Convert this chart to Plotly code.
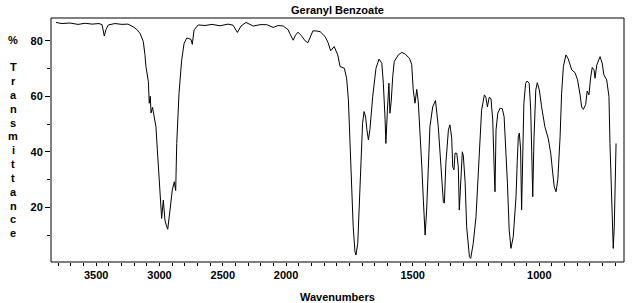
import plotly.graph_objects as go

# ---- data ----
wavenumber = [
    3818, 3770, 3707, 3644, 3588, 3533, 3478, 3454, 3436, 3423, 3404, 3352, 3296, 3249,
    3207, 3178, 3154, 3128, 3115, 3107, 3088, 3081, 3073, 3067, 3055, 3041, 3028, 3017,
    3004, 2996, 2983, 2970, 2957, 2943, 2935, 2917, 2899, 2883, 2872, 2864, 2846, 2825,
    2806, 2785, 2751, 2741, 2727, 2694, 2641, 2585, 2522, 2459, 2419, 2385, 2356, 2317,
    2259, 2206, 2153, 2101, 2064, 2022, 2000,
    1992, 1985, 1972, 1963, 1953, 1941, 1925, 1914, 1904, 1894, 1878, 1866, 1846, 1835,
    1824, 1810, 1796, 1787, 1770, 1761, 1754, 1748, 1741, 1735, 1728, 1724, 1717, 1711,
    1704, 1698, 1692, 1686, 1681, 1675, 1669, 1658, 1645, 1633, 1622, 1616, 1609, 1606,
    1600, 1594, 1590, 1585, 1579, 1573, 1557, 1543, 1530, 1513, 1504, 1498, 1491, 1484,
    1478, 1471, 1464, 1458, 1451, 1445, 1438, 1432, 1421, 1410, 1399, 1389, 1379, 1375,
    1369, 1359, 1353, 1346, 1342, 1337, 1333, 1326, 1320, 1316, 1310, 1304, 1300, 1293,
    1287, 1276, 1271, 1261, 1250, 1241, 1234, 1228, 1217, 1211, 1205, 1198, 1191, 1184,
    1179, 1175, 1171, 1164, 1155, 1146, 1139, 1133, 1126, 1119, 1112, 1103, 1092, 1087,
    1083, 1079, 1074, 1070, 1066, 1061, 1054, 1048, 1040, 1034, 1030, 1026, 1021, 1014,
    1008, 1000, 991, 978, 965, 955, 947, 941, 934, 927, 918, 912, 905, 895, 886, 872,
    859, 849, 839, 833, 826, 817, 811, 804, 797, 791, 784, 780, 773, 760, 752, 745, 734,
    725, 721, 714, 710, 708, 704, 700, 697,
]
transmittance = [
    86.6, 86.2, 86.4, 85.9, 86.3, 86.0, 86.2, 85.8, 81.7, 84.0, 85.7, 86.2, 85.9, 86.0,
    85.0, 84.0, 82.7, 79.7, 75.0, 70.7, 65.3, 57.5, 60.0, 54.0, 56.0, 52.0, 49.0, 40.7,
    32.3, 24.5, 16.0, 22.6, 15.4, 13.0, 12.1, 19.0, 26.2, 29.2, 26.0, 43.0, 61.0, 73.0,
    79.0, 81.0, 80.5, 78.7, 83.9, 85.7, 85.5, 85.9, 85.4, 86.0, 85.6, 83.0, 85.3, 86.6,
    85.3, 85.8, 85.8, 84.8, 85.5, 85.3, 84.5,
    84.0, 82.5, 80.2, 82.0, 83.1, 82.0, 80.0, 79.3, 81.5, 83.6, 83.5, 83.3, 81.5, 79.5,
    76.4, 77.9, 74.9, 70.7, 70.1, 66.5, 58.7, 43.0, 27.4, 13.0, 4.0, 2.8, 7.0, 20.2,
    37.0, 50.3, 54.5, 52.5, 48.0, 44.3, 48.0, 59.9, 70.1, 73.4, 71.9, 64.7, 51.5, 43.0,
    55.0, 64.7, 53.9, 58.0, 67.0, 72.5, 74.9, 75.8, 75.2, 73.7, 71.5, 62.3, 57.5, 62.5,
    58.0, 47.9, 34.6, 22.6, 10.0, 19.0, 35.0, 49.0, 56.2, 58.5, 49.0, 33.5, 22.0, 21.5,
    35.9, 47.9, 49.7, 45.0, 34.6, 33.5, 39.5, 39.5, 34.6, 19.0, 31.0, 40.0, 38.5, 29.0,
    13.0, 2.2, 1.6, 7.0, 16.6, 31.0, 43.0, 55.0, 60.5, 59.6, 56.2, 59.6, 59.2, 51.5,
    36.0, 25.6, 47.9, 53.9, 55.7, 55.5, 52.6, 43.0, 28.7, 11.8, 5.2, 9.4, 23.8, 37.0,
    45.4, 46.7, 41.0, 19.0, 40.0, 57.5, 64.7, 65.5, 64.7, 55.0, 40.0, 23.8, 45.0, 62.3,
    64.9, 62.3, 56.2, 49.0, 44.9, 39.5, 32.3, 27.4, 25.6, 30.0, 45.4, 61.0, 70.7, 74.9, 73.5, 69.5,
    68.5, 65.9, 60.5, 56.2, 55.3, 57.0, 61.9, 60.5, 67.0, 70.4, 69.5, 66.5, 71.3, 74.3, 72.0, 67.7, 65.9,
    59.9, 43.0, 23.8, 9.4, 5.2, 13.0, 31.0, 43.0,
]

high_range = [3857, 2000]      # compressed part of the wavenumber axis
low_range = [2000, 665.6]      # expanded part
high_ticks = [3500, 3000, 2500]
low_ticks = [2000, 1500, 1000]
high_minor = [3800, 3700, 3600, 3400, 3300, 3200, 3100, 2900, 2800, 2700, 2600, 2400, 2300, 2200, 2100]
low_minor = [1950, 1900, 1850, 1800, 1750, 1700, 1650, 1600, 1550, 1450, 1400, 1350, 1300,
             1250, 1200, 1150, 1100, 1050, 950, 900, 850, 800, 750, 700]
y_ticks = [20, 40, 60, 80]
y_minor = [10, 30, 50, 70]
y_range = [0.3, 88.2]

title = "Geranyl Benzoate"
x_title = "Wavenumbers"
y_title_letters = ["%", "", "T", "r", "a", "n", "s", "m", "i", "t", "t", "a", "n", "c", "e"]

# ---- split into the two axis segments ----
hx = [w for w in wavenumber if w >= 2000]
hy = [t for w, t in zip(wavenumber, transmittance) if w >= 2000]
lx = [w for w in wavenumber if w <= 2000]
ly = [t for w, t in zip(wavenumber, transmittance) if w <= 2000]

FONT = "Liberation Sans"
split = 0.4103

fig = go.Figure()
line = dict(color="black", width=1)
fig.add_trace(go.Scatter(x=hx, y=hy, mode="lines", line=line, xaxis="x", yaxis="y", showlegend=False, hoverinfo="skip"))
fig.add_trace(go.Scatter(x=lx, y=ly, mode="lines", line=line, xaxis="x2", yaxis="y", showlegend=False, hoverinfo="skip"))

tickfont = dict(family=FONT, size=11, color="black", weight="bold")
common_x = dict(showgrid=False, zeroline=False, ticks="outside", ticklen=3, tickcolor="black",
                tickfont=tickfont, showline=False, fixedrange=True)

fig.update_layout(
    width=638, height=303,
    margin=dict(l=51, r=14, t=18, b=41),
    paper_bgcolor="white", plot_bgcolor="white",
    xaxis=dict(domain=[0, split], range=high_range, tickmode="array", tickvals=high_ticks,
               minor=dict(tickmode="array", tickvals=high_minor, ticks="outside", ticklen=3, tickcolor="black"),
               anchor="y", **common_x),
    xaxis2=dict(domain=[split, 1], range=low_range, tickmode="array", tickvals=low_ticks,
                minor=dict(tickmode="array", tickvals=low_minor, ticks="outside", ticklen=3, tickcolor="black"),
                anchor="y", **common_x),
    yaxis=dict(range=y_range, tickmode="array", tickvals=y_ticks, ticks="outside", ticklen=5,
               tickcolor="black", tickfont=tickfont, showgrid=False, zeroline=False, fixedrange=True,
               minor=dict(tickmode="array", tickvals=y_minor, ticks="outside", ticklen=3, tickcolor="black")),
    shapes=[dict(type="rect", xref="paper", yref="paper", x0=0, x1=1, y0=0, y1=1,
                 line=dict(color="black", width=1), fillcolor="rgba(0,0,0,0)", layer="above")],
)

annotations = [
    dict(text=title, xref="paper", yref="paper", x=0.5, y=1, xanchor="center", yanchor="middle",
         yshift=8, showarrow=False, font=dict(family=FONT, size=11, color="black", weight="bold")),
    dict(text=x_title, xref="paper", yref="paper", x=0.5, y=0, xanchor="center", yanchor="middle",
         yshift=-35, showarrow=False, font=dict(family=FONT, size=11, color="black", weight="bold")),
]
plot_top, plot_h = 18, 244
for i, ch in enumerate(y_title_letters):
    if not ch:
        continue
    py = 39.5 + i * 13.84
    annotations.append(dict(text=ch, xref="paper", yref="paper", x=0, xshift=-38,
                            y=(plot_top + plot_h - py) / plot_h, xanchor="center", yanchor="middle",
                            showarrow=False, font=dict(family=FONT, size=11, color="black", weight="bold")))
fig.update_layout(annotations=annotations)

fig.write_html("out.html")
